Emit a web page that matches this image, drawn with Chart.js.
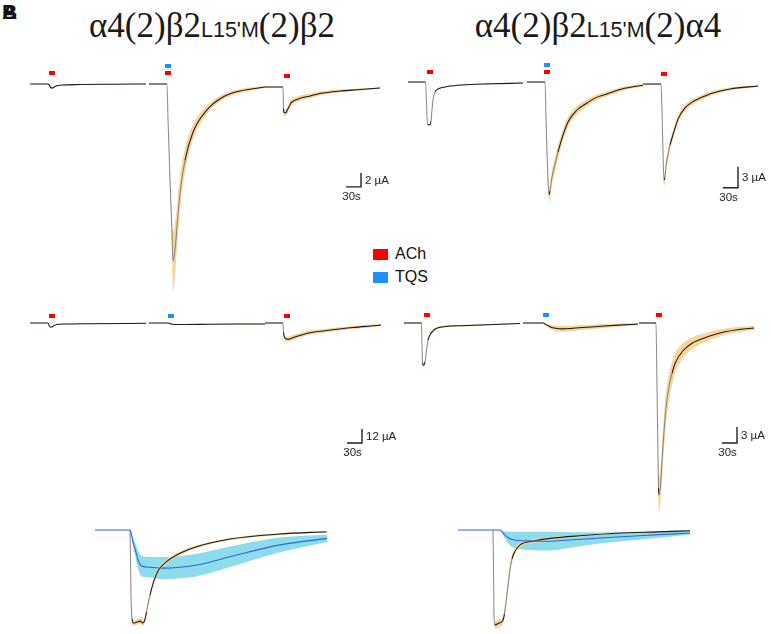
<!DOCTYPE html>
<html><head><meta charset="utf-8">
<script src="https://cdn.jsdelivr.net/npm/chart.js@4.4.0/dist/chart.umd.min.js"></script>
<style>
html,body{margin:0;padding:0;background:#fff;}
#fig{position:relative;width:771px;height:634px;overflow:hidden;font-family:"Liberation Sans",Arial,sans-serif;color:#111;}
canvas{position:absolute;}
.title{position:absolute;top:6px;width:400px;text-align:center;white-space:nowrap;font-family:"Liberation Serif","Times New Roman",serif;font-size:35px;line-height:40px;color:#1a1a1a;}
.title .s{font-family:"Liberation Sans",Arial,sans-serif;font-size:21.5px;}
.plab{position:absolute;left:2px;top:0px;font:bold 21px "Liberation Sans",Arial,sans-serif;line-height:24px;}
.leg{position:absolute;left:373px;font:16px "Liberation Sans",Arial,sans-serif;line-height:16px;}
.leg i{display:inline-block;width:15px;height:11px;vertical-align:-1px;margin-right:7px;}
</style></head>
<body>
<div id="fig">
  <div class="plab">A</div><div class="plab">B</div>
  <div class="title" style="left:12px">α4(2)β2<span class="s">L15'M</span>(2)β2</div>
  <div class="title" style="left:398px">α4(2)β2<span class="s">L15'M</span>(2)α4</div>
  <div class="leg" style="top:246px"><i style="background:#ff0000"></i>ACh</div>
  <div class="leg" style="top:269px"><i style="background:#1e8fff"></i>TQS</div>
  <canvas id="A1"></canvas><canvas id="B1"></canvas>
  <canvas id="A2"></canvas><canvas id="B2"></canvas>
  <canvas id="C1"></canvas><canvas id="C2"></canvas>
</div>
<script>
// ---------- DATA: [time (s, local to trace), mean current, SD] ----------
// Row 1, left: a4(2)b2L15'M(2)b2, currents in µA
const A1_ach1 = [[0,0,0.05],[36,0,0.05],[39,-0.2,0.05],[42,-0.55,0.08],[46,-0.55,0.08],[50,-0.35,0.06],[56,-0.22,0.05],[66,-0.14,0.05],[100,-0.08,0.05],[160,-0.04,0.05],[232,0,0.05]];
const A1_tqsach = [[0,0,0.05],[36,0,0.05],[38,-5,0.2],[42,-13.6,0.6],[46,-21.4,1.8],[48,-25.3,4.3],[52,-23.7,3.8],[56,-20.4,3.0],[62,-15.6,2.4],[72,-10.9,1.7],[88,-6.9,1.1],[116,-3.7,0.6],[148,-1.86,0.4],[182,-1.0,0.3],[232,-0.43,0.15]];
const A1_ach2 = [[0,-0.43,0.05],[36,-0.43,0.05],[37,-3.5,0.3],[38,-4.1,0.45],[42,-4.1,0.5],[44,-3.8,0.5],[48,-3.3,0.5],[52,-2.7,0.45],[64,-2.2,0.4],[90,-1.7,0.35],[110,-1.35,0.3],[150,-1.0,0.22],[190,-0.8,0.15],[230,-0.57,0.12]];
// Row 1, right: a4(2)b2L15'M(2)a4
const B1_ach1 = [[0,0,0.05],[35,0,0.05],[37,-3,0.1],[39,-6.1,0.12],[44,-6.1,0.12],[46,-5.6,0.12],[48,-4.0,0.12],[50,-2.6,0.1],[54,-1.45,0.08],[60,-1.0,0.06],[74,-0.7,0.05],[100,-0.45,0.05],[150,-0.3,0.05],[230,-0.15,0.05]];
const B1_tqsach = [[0,0,0.05],[36,0,0.05],[38,-5,0.3],[40,-10,0.6],[42,-14,0.9],[44,-16.1,1.0],[46,-15.6,1.0],[50,-13.6,1.0],[56,-11.8,1.0],[62,-10.0,0.95],[72,-7.6,0.85],[82,-5.7,0.7],[100,-4.0,0.6],[120,-3.0,0.5],[136,-2.3,0.42],[160,-1.7,0.35],[190,-1.0,0.28],[232,-0.45,0.2]];
const B1_ach2 = [[0,-0.29,0.05],[36,-0.29,0.05],[38,-4,0.3],[40,-10,0.6],[42,-14.0,0.8],[44,-13.6,0.8],[46,-12,0.8],[50,-10.4,0.75],[54,-9.0,0.7],[58,-8.0,0.65],[64,-6.6,0.6],[70,-5.3,0.55],[84,-3.7,0.45],[100,-2.8,0.4],[114,-2.3,0.35],[138,-1.6,0.3],[174,-1.0,0.22],[230,-0.57,0.15]];
// Row 2, left
const A2_ach1 = [[0,0,0.3],[36,0,0.3],[38,-2,0.3],[40,-3.4,0.4],[44,-3.4,0.4],[48,-2.2,0.4],[54,-1.3,0.3],[70,-0.9,0.3],[120,-0.6,0.3],[232,-0.3,0.3]];
const A2_tqs = [[0,0,0.3],[38,0,0.3],[44,-0.8,0.4],[52,-1.2,0.4],[70,-1.3,0.4],[120,-1.1,0.4],[180,-0.9,0.4],[232,-0.8,0.4]];
const A2_ach2 = [[0,0,0.3],[36,0,0.3],[37,-8,1],[38,-11,1.5],[42,-13.5,2],[46,-14,2.2],[52,-13.2,2.2],[66,-11.1,2],[90,-8.3,1.8],[120,-6.6,1.6],[144,-5.4,1.5],[176,-3.9,1.3],[210,-2.6,1.2],[232,-1.8,1.0]];
// Row 2, right
const B2_ach1 = [[0,0,0.1],[35,0,0.1],[36,-4,0.2],[37,-7.5,0.35],[39,-7.9,0.4],[42,-7.3,0.4],[45,-5.1,0.35],[48,-3.2,0.3],[55,-1.8,0.25],[68,-0.9,0.2],[115,-0.5,0.15],[232,-0.1,0.1]];
const B2_tqs = [[0,0,0.1],[40,0,0.1],[46,-0.3,0.2],[56,-0.8,0.4],[66,-1.0,0.5],[78,-1.1,0.55],[100,-1.0,0.5],[144,-0.7,0.4],[190,-0.4,0.3],[230,-0.2,0.2]];
const B2_ach2 = [[0,0,0.1],[34,0,0.1],[36,-12,0.8],[38,-25,2],[39,-31,3],[40,-32.2,3.2],[43,-30.5,3.2],[46,-26,3.2],[50,-20.4,3.1],[54,-15.9,2.9],[60,-11.9,2.6],[66,-9.5,2.2],[72,-7.6,1.9],[88,-5.2,1.4],[106,-3.8,1.1],[140,-2.5,0.8],[172,-1.65,0.6],[200,-1.2,0.5],[230,-0.95,0.4]];
// Row 3: normalised overlays (ACh vs TQS)
const C1_ach = [[70,0,0],[71,-0.3,0.01],[72,-0.7,0.02],[74,-0.95,0.03],[77,-1.0,0.03],[84,-0.99,0.03],[90,-0.98,0.03],[96,-1.0,0.03],[100,-0.96,0.03],[103,-0.88,0.03],[110,-0.70,0.03],[117,-0.56,0.03],[127,-0.43,0.025],[143,-0.34,0.02],[170,-0.25,0.02],[203,-0.18,0.015],[270,-0.097,0.012],[370,-0.043,0.01],[463,-0.018,0.008]];
const C1_tqs = [[0,0,0],[70,0,0],[73,-0.05,0.02],[76,-0.13,0.05],[80,-0.2,0.07],[86,-0.32,0.1],[94,-0.39,0.11],[110,-0.40,0.11],[136,-0.41,0.12],[170,-0.40,0.12],[204,-0.376,0.12],[270,-0.287,0.11],[370,-0.16,0.08],[464,-0.09,0.04]];
const C2_ach = [[70,0,0],[71,-0.4,0.02],[72,-0.9,0.03],[74,-1.02,0.04],[82,-1.0,0.04],[90,-0.97,0.04],[93,-0.9,0.05],[96,-0.78,0.06],[100,-0.6,0.06],[104,-0.42,0.05],[108,-0.31,0.04],[112,-0.25,0.035],[124,-0.16,0.025],[150,-0.12,0.02],[184,-0.09,0.015],[250,-0.06,0.01],[317,-0.036,0.008],[400,-0.02,0.006],[464,-0.008,0.005]];
const C2_tqs = [[0,0,0],[84,0,0],[90,-0.03,0.02],[94,-0.054,0.04],[100,-0.08,0.06],[107,-0.1,0.08],[117,-0.11,0.09],[150,-0.118,0.1],[184,-0.12,0.1],[230,-0.105,0.08],[284,-0.086,0.06],[370,-0.06,0.04],[464,-0.032,0.02]];
// Drug application times [trace index, local time (s), drugs]
const A1_stim = [[0,44,['ACh']],[1,38,['ACh','TQS']],[2,44,['ACh']]];
const B1_stim = [[0,44,['ACh']],[1,40,['ACh','TQS']],[2,42,['ACh']]];
const A2_stim = [[0,44,['ACh']],[1,44,['TQS']],[2,44,['ACh']]];
const B2_stim = [[0,46,['ACh']],[1,46,['TQS']],[2,40,['ACh']]];
// Trace start times on the shared time axis (s)
const TRACE_OFFSETS = [0, 238, 470];
// Scale bars: [seconds, µA]
const A1_bar = [30, 2], B1_bar = [30, 3], A2_bar = [30, 12], B2_bar = [30, 3];

// ---------- STYLE ----------
const ORANGE = '#f9d49b', CYAN = '#8ddcec', BLACK = '#1a1a1a', BLUE = '#2b66d9', STEEP = 'rgba(120,120,120,0.85)';
const DRUG_COL = {ACh:'#ff0000', TQS:'#1e8fff'};

const panels = [
  {id:'A1', left:20, top:55, w:380, h:245, x0:30, base:84, ppu:7,
   series:[{segs:[A1_ach1,A1_tqsach,A1_ach2], offs:TRACE_OFFSETS, line:BLACK, band:ORANGE}],
   stim:A1_stim, mark:11, bar:A1_bar, barPos:{t:662, i:-14.7}},
  {id:'B1', left:397, top:55, w:374, h:245, x0:408, base:82, ppu:7,
   series:[{segs:[B1_ach1,B1_tqsach,B1_ach2], offs:TRACE_OFFSETS, line:BLACK, band:ORANGE}],
   stim:B1_stim, mark:10, bar:B1_bar, barPos:{t:660, i:-15.1}},
  {id:'A2', left:20, top:300, w:380, h:215, x0:30, base:323, ppu:14/12,
   series:[{segs:[A2_ach1,A2_tqs,A2_ach2], offs:TRACE_OFFSETS, line:BLACK, band:ORANGE}],
   stim:A2_stim, mark:7.5, bar:A2_bar, barPos:{t:664, i:-102.9}},
  {id:'B2', left:394, top:300, w:377, h:220, x0:404, base:323, ppu:16/3,
   series:[{segs:[B2_ach1,B2_tqs,B2_ach2], offs:TRACE_OFFSETS, line:BLACK, band:ORANGE}],
   stim:B2_stim, mark:7.5, bar:B2_bar, barPos:{t:666, i:-22.5}},
  {id:'C1', left:85, top:515, w:250, h:119, x0:95, base:530, ppu:93,
   series:[{segs:[C1_tqs], offs:[0], line:BLUE, band:CYAN},{segs:[C1_ach], offs:[0], line:BLACK, band:ORANGE}],
   lineTop:0},
  {id:'C2', left:448, top:515, w:250, h:119, x0:458, base:530, ppu:93,
   series:[{segs:[C2_tqs], offs:[0], line:BLUE, band:CYAN},{segs:[C2_ach], offs:[0], line:BLACK, band:ORANGE}],
   lineTop:0}
];
const PX_PER_SEC = 0.5;

function extras(p){
  return {id:'extras'+p.id, afterDatasetsDraw(chart){
    const ctx = chart.ctx, xs = chart.scales.x, ys = chart.scales.y;
    ctx.save();
    if (p.stim) {
      const segs = p.series[0].segs;
      p.stim.forEach(([k, t, drugs]) => {
        const x = xs.getPixelForValue(TRACE_OFFSETS[k] + t);
        const yb = ys.getPixelForValue(segs[k][0][1]);
        drugs.forEach((d, j) => {
          ctx.fillStyle = DRUG_COL[d];
          ctx.fillRect(Math.round(x - 3), Math.round(yb - p.mark - 7*j - 2), 6, 4);
        });
      });
    }
    if (p.bar) {
      const [dt, di] = p.bar;
      const cx = xs.getPixelForValue(p.barPos.t), cy = ys.getPixelForValue(p.barPos.i);
      const lx = xs.getPixelForValue(p.barPos.t - dt), ty = ys.getPixelForValue(p.barPos.i + di);
      ctx.strokeStyle = '#222'; ctx.lineWidth = 1.4;
      ctx.beginPath(); ctx.moveTo(lx, cy); ctx.lineTo(cx, cy); ctx.lineTo(cx, ty); ctx.stroke();
      ctx.fillStyle = '#222'; ctx.font = '11.5px "Liberation Sans", Arial, sans-serif';
      ctx.textBaseline = 'middle'; ctx.textAlign = 'left';
      ctx.fillText(di + ' µA', cx + 4, (cy + ty) / 2 + 1);
      ctx.textAlign = 'center';
      ctx.fillText(dt + 's', (lx + cx) / 2 - 2, cy + 10);
    }
    ctx.restore();
  }};
}

panels.forEach(p => {
  const cv = document.getElementById(p.id);
  cv.width = p.w; cv.height = p.h;
  cv.style.left = p.left + 'px'; cv.style.top = p.top + 'px';
  const xmin = (p.left - p.x0) / PX_PER_SEC, xmax = xmin + p.w / PX_PER_SEC;
  const ymax = (p.base - p.top) / p.ppu, ymin = ymax - p.h / p.ppu;
  const ds = [];
  const ns = p.series.length;
  p.series.forEach((s, si) => {
    // lower 'order' is painted on top: lines above bands, later series' bands above earlier
    const bandOrder = 10 + (ns - si);
    const lineOrder = (p.lineTop === si) ? 0 : 1 + (ns - si);
    s.segs.forEach((seg, k) => {
      const off = s.offs[k];
      const common = {pointRadius:0, cubicInterpolationMode:'monotone', borderJoinStyle:'round'};
      ds.push(Object.assign({data: seg.map(q => ({x:q[0]+off, y:q[1]+q[2]})), borderColor:'rgba(0,0,0,0)', borderWidth:0, fill:false, order:bandOrder}, common));
      ds.push(Object.assign({data: seg.map(q => ({x:q[0]+off, y:q[1]-q[2]})), borderColor:'rgba(0,0,0,0)', borderWidth:0, fill:'-1', backgroundColor:s.band, order:bandOrder}, common));
      const col = s.line;
      ds.push(Object.assign({data: seg.map(q => ({x:q[0]+off, y:q[1]})), borderColor:col, borderWidth:1.05, fill:false, order:lineOrder,
        segment:{borderColor: c => {
          const dx = Math.abs(c.p1.x - c.p0.x), dy = Math.abs(c.p1.y - c.p0.y);
          return (col === BLACK && dy > 8 && dy > 4 * dx) ? STEEP : col;
        }}}, common));
    });
  });
  new Chart(cv, {
    type:'line',
    data:{datasets:ds},
    options:{
      responsive:false, animation:false, devicePixelRatio:1,
      layout:{padding:0},
      events:[],
      plugins:{legend:{display:false}, tooltip:{enabled:false}},
      scales:{
        x:{type:'linear', min:xmin, max:xmax, display:false},
        y:{type:'linear', min:ymin, max:ymax, display:false}
      }
    },
    plugins:[extras(p)]
  });
});
</script>
</body></html>
